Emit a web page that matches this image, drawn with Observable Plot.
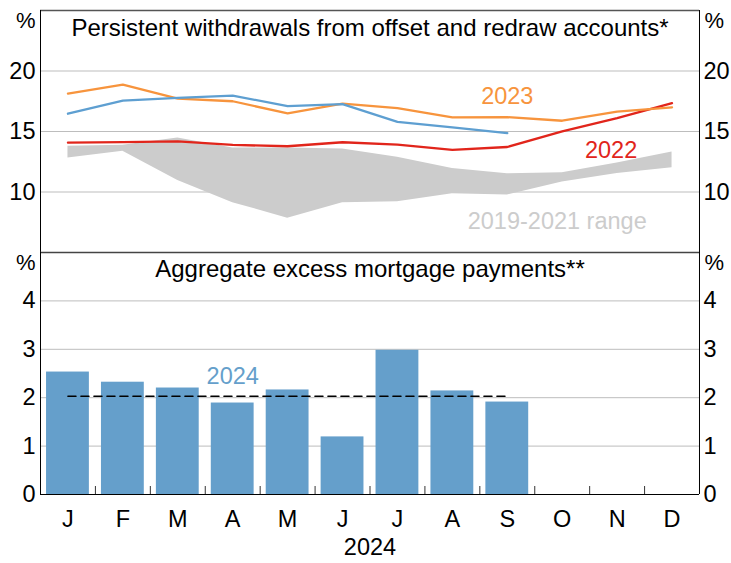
<!DOCTYPE html>
<html>
<head>
<meta charset="utf-8">
<script src="https://cdn.jsdelivr.net/npm/d3@7"></script>
<script src="https://cdn.jsdelivr.net/npm/@observablehq/plot@0.6"></script>
<style>
  html, body { margin: 0; padding: 0; background: #fff; }
  #chart svg { display: block; }
</style>
</head>
<body>
<div id="chart"></div>
<script>
// ---- data ----
const months = ["Jan","Feb","Mar","Apr","May","Jun","Jul","Aug","Sep","Oct","Nov","Dec"];
const monthLetters = ["J","F","M","A","M","J","J","A","S","O","N","D"];
const withdrawals2022 = [14.08,14.13,14.19,13.89,13.78,14.11,13.92,13.48,13.72,15.01,16.1,17.34];
const withdrawals2023 = [18.13,18.87,17.72,17.5,16.49,17.31,16.93,16.16,16.19,15.89,16.65,17.0];
const withdrawals2024 = [16.47,17.56,17.78,17.97,17.09,17.26,15.8,15.34,14.87];
const range2019_2021Low  = [12.82,13.37,10.96,9.12,7.84,9.12,9.2,9.86,9.75,10.82,11.53,12.0];
const range2019_2021High = [13.78,13.86,14.46,13.64,13.64,13.56,12.87,11.95,11.5,11.59,12.4,13.31];
const excessPayments2024 = [2.53,2.32,2.20,1.89,2.16,1.19,2.98,2.14,1.91];
const excessAverage2024 = 2.03;
const topTicks = [10,15,20];
const bottomTicks = [0,1,2,3,4];

// ---- style ----
const W = 731, ML = 40, MR = 32;
const FONT = "'Liberation Sans', Arial, Helvetica, sans-serif";
const FS = 23.5, TITLE_FS = 24, PCT_FS = 22;
const ORANGE = "#F7943D", RED = "#E1251B", BLUE = "#5E9FD1", BAR = "#659FCB", GREY = "#cccccc", GRID = "#bdbdbd";
const LW = 2.3;
const step = (W - ML - MR) / months.length;
const xScale = {type: "band", domain: months, paddingInner: 0.22, paddingOuter: 0.11, round: false};

const rows = months.map((m, i) => ({
  month: m,
  low: range2019_2021Low[i], high: range2019_2021High[i],
  y2022: withdrawals2022[i], y2023: withdrawals2023[i],
  y2024: withdrawals2024[i] ?? null,
  bar: excessPayments2024[i] ?? null
}));

const topChart = Plot.plot({
  width: W, height: 252,
  marginLeft: ML, marginRight: MR, marginTop: 10, marginBottom: 0,
  style: {fontFamily: FONT, fontSize: FS + "px", color: "#000", background: "#fff", overflow: "visible"},
  x: {...xScale, axis: null},
  y: {domain: [5, 25], axis: null},
  marks: [
    Plot.ruleY(topTicks, {stroke: GRID, strokeWidth: 1}),
    Plot.areaY(rows, {x: "month", y1: "low", y2: "high", fill: GREY, curve: "linear"}),
    Plot.line(rows, {x: "month", y: "y2022", stroke: RED, strokeWidth: LW}),
    Plot.line(rows, {x: "month", y: "y2023", stroke: ORANGE, strokeWidth: LW}),
    Plot.line(rows.filter(d => d.y2024 != null), {x: "month", y: "y2024", stroke: BLUE, strokeWidth: LW}),
    Plot.axisY(topTicks, {anchor: "left", tickSize: 0, tickPadding: 5, fontSize: FS, label: null}),
    Plot.axisY(topTicks, {anchor: "right", tickSize: 0, tickPadding: 4, fontSize: FS, label: null}),
    Plot.text(["2023"], {x: () => "Sep", y: () => 17.9, text: d => d, fill: ORANGE, fontSize: FS}),
    Plot.text(["2022"], {x: () => "Nov", y: () => 13.45, dx: -6, text: d => d, fill: RED, fontSize: FS}),
    Plot.text(["2019-2021 range"], {x: () => "Oct", y: () => 7.6, dx: -5, text: d => d, fill: GREY, fontSize: FS}),
    Plot.text(["Persistent withdrawals from offset and redraw accounts*"], {frameAnchor: "top", dy: 8, lineAnchor: "top", text: d => d, fill: "#000", fontSize: TITLE_FS}),
    Plot.text(["%"], {frameAnchor: "top-left", dx: -5, dy: 2, textAnchor: "end", lineAnchor: "top", text: d => d, fontSize: PCT_FS}),
    Plot.text(["%"], {frameAnchor: "top-right", dx: 5, dy: 2, textAnchor: "start", lineAnchor: "top", text: d => d, fontSize: PCT_FS}),
    Plot.ruleY([25], {stroke: "#555", strokeWidth: 1.5}),
    Plot.ruleX([months[0]], {dx: -step / 2, stroke: "#000"}),
    Plot.ruleX([months[11]], {dx: step / 2, stroke: "#000"})
  ]
});

const bottomChart = Plot.plot({
  width: W, height: 311,
  marginLeft: ML, marginRight: MR, marginTop: 0, marginBottom: 69,
  style: {fontFamily: FONT, fontSize: FS + "px", color: "#000", background: "#fff", overflow: "visible"},
  x: {...xScale, axis: null},
  y: {domain: [0, 5], axis: null},
  marks: [
    Plot.ruleY(bottomTicks.slice(1), {stroke: GRID, strokeWidth: 1}),
    Plot.barY(rows.filter(d => d.bar != null), {x: "month", y: "bar", fill: BAR}),
    Plot.line(months.slice(0, excessPayments2024.length), {x: d => d, y: () => excessAverage2024, stroke: "#000", strokeWidth: 1.6, strokeDasharray: "8,5"}),
    Plot.text(["2024"], {x: () => "Apr", y: () => 2.43, text: d => d, fill: BAR, fontSize: FS}),
    Plot.ruleX(months.slice(1), {x: d => d, dx: -step / 2, insetTop: 234, stroke: "#333"}),
    Plot.axisY(bottomTicks, {anchor: "left", tickSize: 0, tickPadding: 5, fontSize: FS, label: null}),
    Plot.axisY(bottomTicks, {anchor: "right", tickSize: 0, tickPadding: 4, fontSize: FS, label: null}),
    Plot.axisX(months, {anchor: "bottom", tickSize: 0, tickPadding: 16, fontSize: FS, tickFormat: d => monthLetters[months.indexOf(d)], label: null}),
    Plot.text(["2024"], {frameAnchor: "bottom", dy: 60, text: d => d, fill: "#000", fontSize: FS}),
    Plot.text(["Aggregate excess mortgage payments**"], {frameAnchor: "top", dy: 7, lineAnchor: "top", text: d => d, fill: "#000", fontSize: TITLE_FS}),
    Plot.text(["%"], {frameAnchor: "top-left", dx: -5, dy: 2, textAnchor: "end", lineAnchor: "top", text: d => d, fontSize: PCT_FS}),
    Plot.text(["%"], {frameAnchor: "top-right", dx: 5, dy: 2, textAnchor: "start", lineAnchor: "top", text: d => d, fontSize: PCT_FS}),
    Plot.ruleY([5], {stroke: "#444", strokeWidth: 1.5}),
    Plot.ruleY([0], {stroke: "#000", strokeWidth: 1.2}),
    Plot.ruleX([months[0]], {dx: -step / 2, stroke: "#000"}),
    Plot.ruleX([months[11]], {dx: step / 2, stroke: "#000"})
  ]
});

document.getElementById("chart").append(topChart, bottomChart);
</script>
</body>
</html>
